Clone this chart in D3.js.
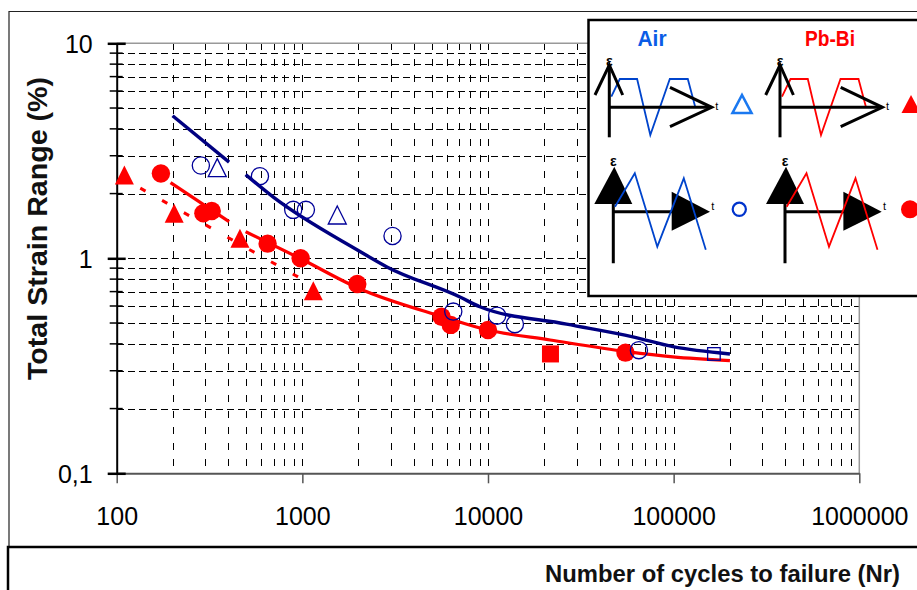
<!DOCTYPE html>
<html lang="en">
<head>
<meta charset="utf-8">
<script src="https://d3js.org/d3.v7.min.js"></script>
<style>
  body { margin: 0; background: #fff; }
  text { font-family: "Liberation Sans", Arial, sans-serif; }
</style>
</head>
<body>
<script>
// axis ticks
var xTicks = [100, 1000, 10000, 100000, 1000000];
var yTicks = [0.1, 1, 10];
var yTickLabels = ["0,1", "1", "10"];

// fitted curves: [cycles to failure, total strain range %]
var airFit1 = [[200, 4.6], [403, 2.8]];
var airFit2 = [[495, 2.45], [695, 1.93], [1990, 1.09], [2855, 0.912], [7060, 0.661],
               [9040, 0.595], [26500, 0.494], [60300, 0.431], [99000, 0.388], [201000, 0.359]];
var pbFit1 = [[195, 2.25], [403, 1.48]];
var pbFit2 = [[495, 1.33], [970, 1.0], [1990, 0.728], [5710, 0.535], [10000, 0.464],
              [21600, 0.417], [56100, 0.368], [99000, 0.348], [201000, 0.334]];
var pbFitDashed = [[134, 2.12], [970, 0.81]];

// test results
var airCircles = [[284, 2.70], [591, 2.41], [893, 1.68], [1045, 1.68], [3060, 1.27],
                  [6500, 0.565], [11200, 0.541], [13960, 0.494], [65000, 0.374]];
var airTriangles = [[348, 2.64], [1542, 1.59]];
var airSquares = [[164800, 0.359]];
var pbTriangles = [[110, 2.44], [204, 1.62], [461, 1.24], [1146, 0.706]];
var pbCircles = [[173, 2.48], [293, 1.62], [325, 1.66], [650, 1.17], [979, 1.0],
                 [1977, 0.759], [5620, 0.535], [6300, 0.49], [10000, 0.464], [55000, 0.364]];
var pbSquares = [[21700, 0.359]];

var W = 917, H = 590;
var navy = "#000080", red = "#ff0000";

var svg = d3.select("body").append("svg")
    .attr("width", W).attr("height", H);

var x = d3.scaleLog().domain([100, 1000000]).range([116.7, 859.3]);
var y = d3.scaleLog().domain([0.1, 10]).range([473.3, 43.3]);

// outer frames
svg.append("path").attr("d", "M9,546 V11.5 H917")
    .attr("fill", "none").attr("stroke", "#222").attr("stroke-width", 1.2);
svg.append("path").attr("d", "M8,590 V547 H917")
    .attr("fill", "none").attr("stroke", "#000").attr("stroke-width", 2.5);

// grid
var grid = svg.append("g").attr("shape-rendering", "crispEdges");
grid.selectAll(".hg")
    .data(y.ticks().filter(function(d) { return d > 0.1 && d < 10; }))
  .enter().append("line")
    .attr("x1", x.range()[0]).attr("x2", x.range()[1])
    .attr("y1", function(d) { return Math.round(y(d)) + 0.5; })
    .attr("y2", function(d) { return Math.round(y(d)) + 0.5; })
    .attr("stroke", "#000").attr("stroke-dasharray", "7,4");
grid.selectAll(".vg")
    .data(x.ticks().filter(function(d) { return d > 100 && d < 1000000; }))
  .enter().append("line")
    .attr("y1", y.range()[1]).attr("y2", y.range()[0])
    .attr("x1", function(d) { return Math.round(x(d)) + 0.5; })
    .attr("x2", function(d) { return Math.round(x(d)) + 0.5; })
    .attr("stroke", "#000").attr("stroke-dasharray", "7,9");

// plot border (top, right)
svg.append("path")
    .attr("d", "M" + x.range()[0] + "," + y.range()[1] + " H" + x.range()[1] + " V" + y.range()[0])
    .attr("fill", "none").attr("stroke", "#999").attr("stroke-width", 1.5);

// x axis
var xAxis = svg.append("g")
    .attr("transform", "translate(0," + y.range()[0] + ")")
    .call(d3.axisBottom(x).tickValues(xTicks).tickSize(10).tickSizeOuter(0)
          .tickFormat(d3.format("d")));
xAxis.select(".domain").attr("stroke", "#555").attr("stroke-width", 2);
xAxis.selectAll(".tick line").attr("stroke", "#555").attr("stroke-width", 1.5);
xAxis.selectAll(".tick text").attr("y", 52).attr("dy", 0)
    .attr("font-size", 25).attr("fill", "#000")
    .style("font-family", "'Liberation Sans', Arial, sans-serif");

// y axis
var yMinor = svg.append("g").attr("transform", "translate(" + x.range()[0] + ",0)");
yMinor.selectAll("line")
    .data(y.ticks().filter(function(d) { return yTicks.indexOf(d) < 0; }))
  .enter().append("line")
    .attr("x1", -7).attr("x2", 6)
    .attr("y1", function(d) { return y(d); }).attr("y2", function(d) { return y(d); })
    .attr("stroke", "#000").attr("stroke-width", 1.5);

var yAxis = svg.append("g")
    .attr("transform", "translate(" + x.range()[0] + ",0)")
    .call(d3.axisLeft(y).tickValues(yTicks).tickSize(9).tickSizeOuter(0)
          .tickFormat(function(d, i) { return yTickLabels[i]; }));
yAxis.select(".domain").attr("stroke", "#000").attr("stroke-width", 2);
yAxis.selectAll(".tick line").attr("x1", 9).attr("stroke", "#000").attr("stroke-width", 2.5);
yAxis.selectAll(".tick text").attr("x", -24).attr("dy", "0.36em")
    .attr("font-size", 25).attr("fill", "#000")
    .style("font-family", "'Liberation Sans', Arial, sans-serif");

// axis titles
svg.append("text")
    .attr("transform", "translate(46.5,228.5) rotate(-90)")
    .attr("text-anchor", "middle")
    .attr("textLength", 303).attr("lengthAdjust", "spacingAndGlyphs")
    .attr("font-size", 27).attr("font-weight", "bold").attr("fill", "#111")
    .text("Total Strain Range (%)");

svg.append("text")
    .attr("x", 545).attr("y", 581.5)
    .attr("textLength", 355).attr("lengthAdjust", "spacingAndGlyphs")
    .attr("font-size", 24).attr("font-weight", "bold").attr("fill", "#111")
    .style("font-family", "'Liberation Sans Narrow', 'Arial Narrow', 'Liberation Sans', sans-serif")
    .text("Number of cycles to failure (Nr)");

// curves
var line = d3.line()
    .x(function(d) { return x(d[0]); })
    .y(function(d) { return y(d[1]); })
    .curve(d3.curveMonotoneX);

var plot = svg.append("g");
plot.append("path").datum(pbFitDashed).attr("d", line)
    .attr("fill", "none").attr("stroke", red).attr("stroke-width", 3)
    .attr("stroke-dasharray", "6,19");
[pbFit1, pbFit2].forEach(function(s) {
  plot.append("path").datum(s).attr("d", line)
      .attr("fill", "none").attr("stroke", red).attr("stroke-width", 3.2);
});
[airFit1, airFit2].forEach(function(s) {
  plot.append("path").datum(s).attr("d", line)
      .attr("fill", "none").attr("stroke", navy).attr("stroke-width", 3.4);
});

// markers
function tri(w, h) {
  return "M0," + (-h / 2) + " L" + (w / 2) + "," + (h / 2) + " L" + (-w / 2) + "," + (h / 2) + " Z";
}
function pos(d) { return "translate(" + x(d[0]) + "," + y(d[1]) + ")"; }

plot.selectAll(".pbc").data(pbCircles).enter().append("circle")
    .attr("cx", function(d) { return x(d[0]); }).attr("cy", function(d) { return y(d[1]); })
    .attr("r", 9.2).attr("fill", red);
plot.selectAll(".pbt").data(pbTriangles).enter().append("path")
    .attr("transform", pos).attr("d", tri(19, 19)).attr("fill", red);
plot.selectAll(".pbs").data(pbSquares).enter().append("rect")
    .attr("x", function(d) { return x(d[0]) - 8.5; }).attr("y", function(d) { return y(d[1]) - 8.5; })
    .attr("width", 17).attr("height", 17).attr("fill", red);

plot.selectAll(".ac").data(airCircles).enter().append("circle")
    .attr("cx", function(d) { return x(d[0]); }).attr("cy", function(d) { return y(d[1]); })
    .attr("r", 8.6).attr("fill", "none").attr("stroke", "#000099").attr("stroke-width", 1.3);
plot.selectAll(".at").data(airTriangles).enter().append("path")
    .attr("transform", pos).attr("d", tri(18, 18))
    .attr("fill", "none").attr("stroke", "#000099").attr("stroke-width", 1.3);
plot.selectAll(".as").data(airSquares).enter().append("rect")
    .attr("x", function(d) { return x(d[0]) - 6.3; }).attr("y", function(d) { return y(d[1]) - 6.3; })
    .attr("width", 12.6).attr("height", 12.6)
    .attr("fill", "none").attr("stroke", "#000099").attr("stroke-width", 1.3);

// legend
var lg = svg.append("g");
lg.append("rect").attr("x", 588.5).attr("y", 20).attr("width", 400).attr("height", 276)
    .attr("fill", "#fff").attr("stroke", "#000").attr("stroke-width", 2.5);

lg.append("text").attr("x", 652).attr("y", 45.5).attr("text-anchor", "middle")
    .attr("font-size", 22).attr("font-weight", "bold").attr("fill", "#0a5ce6")
    .attr("textLength", 29).attr("lengthAdjust", "spacingAndGlyphs").text("Air");
lg.append("text").attr("x", 830).attr("y", 45.5).attr("text-anchor", "middle")
    .attr("font-size", 22).attr("font-weight", "bold").attr("fill", red)
    .attr("textLength", 50).attr("lengthAdjust", "spacingAndGlyphs").text("Pb-Bi");

var trapWave = [[2, -10.6], [10.5, -28.3], [27.8, -28.3], [41, 27.7], [60.5, -28.3], [78.5, -28.3], [86, 0]];
var triWave = [[1.7, -5], [21.5, -38.4], [44, 35], [70.5, -33.4], [92.5, 38]];
var poly = d3.line();

function iconTop(ox, oy, col) {
  var g = lg.append("g").attr("transform", "translate(" + ox + "," + oy + ")");
  g.append("path").attr("d", poly(trapWave)).attr("fill", "none")
      .attr("stroke", col).attr("stroke-width", 1.8);
  var ax = g.append("g").attr("fill", "none").attr("stroke", "#000").attr("stroke-width", 3);
  ax.append("path").attr("d", "M0,30 V-42");
  ax.append("path").attr("d", "M-14.3,-12.3 L0,-42.3 L13.4,-12.3");
  ax.append("path").attr("d", "M0,0 H102");
  ax.append("path").attr("d", "M60.7,-20 L102.4,0 L60.7,19.4");
  g.append("text").attr("x", 0).attr("y", -41).attr("text-anchor", "middle")
      .attr("font-size", 14).attr("font-weight", "bold").text("ε");
  g.append("text").attr("x", 106).attr("y", 3).attr("font-size", 11).text("t");
}
function iconBottom(ox, oy, col) {
  var g = lg.append("g").attr("transform", "translate(" + ox + "," + oy + ")");
  g.append("path").attr("d", "M0,-40 V51.6 M0,0 H60").attr("fill", "none")
      .attr("stroke", "#000").attr("stroke-width", 3);
  g.append("path").attr("d", "M-19,-7.7 L19,-7.7 L1,-45 Z").attr("fill", "#000");
  g.append("path").attr("d", "M58.4,-20 L58.4,19 L96.7,0 Z").attr("fill", "#000");
  g.append("path").attr("d", poly(triWave)).attr("fill", "none")
      .attr("stroke", col).attr("stroke-width", 1.8);
  g.append("text").attr("x", 0).attr("y", -46).attr("text-anchor", "middle")
      .attr("font-size", 14).attr("font-weight", "bold").text("ε");
  g.append("text").attr("x", 98).attr("y", -2).attr("font-size", 11).text("t");
}

iconTop(609.3, 107.3, "#0044cc");
iconTop(780, 107.3, red);
iconBottom(613.3, 211.7, "#0044cc");
iconBottom(785, 211.7, red);

lg.append("path").attr("transform", "translate(742,104)").attr("d", tri(19, 18))
    .attr("fill", "none").attr("stroke", "#1a78f0").attr("stroke-width", 2.6);
lg.append("path").attr("transform", "translate(911,104)").attr("d", tri(19, 18))
    .attr("fill", red);
lg.append("circle").attr("cx", 739.3).attr("cy", 209.3).attr("r", 6.6)
    .attr("fill", "none").attr("stroke", "#0033cc").attr("stroke-width", 2.2);
lg.append("circle").attr("cx", 910).attr("cy", 209.3).attr("r", 9)
    .attr("fill", red);
</script>
</body>
</html>
